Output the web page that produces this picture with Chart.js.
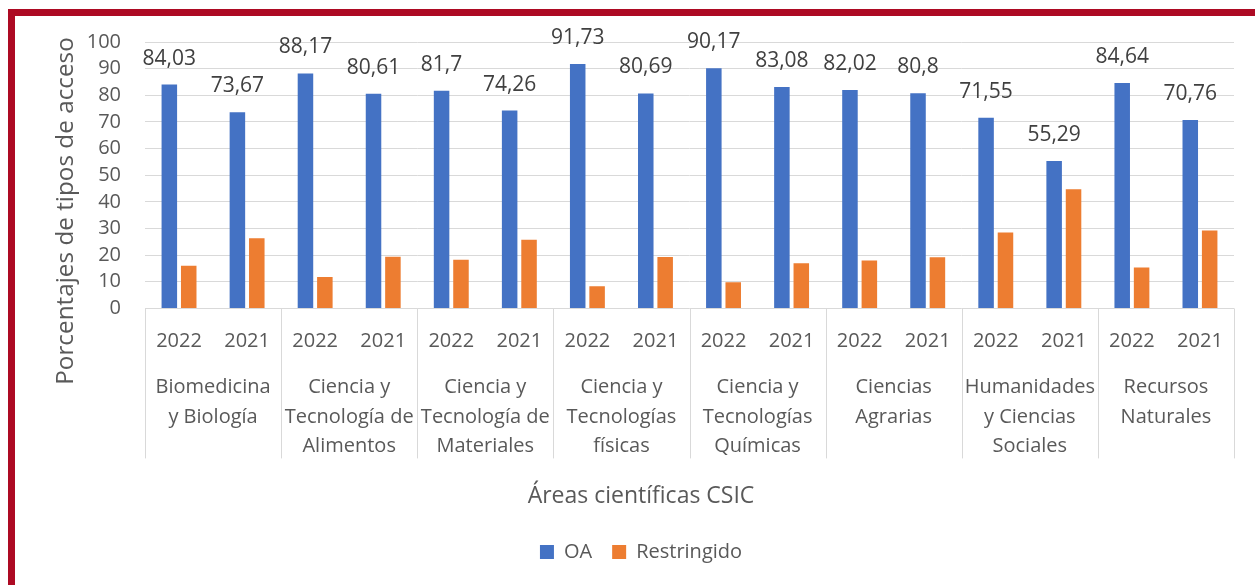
<!DOCTYPE html>
<html>
<head>
<meta charset="utf-8">
<script src="https://cdn.jsdelivr.net/npm/chart.js@4"></script>
<style>
body { margin: 0; background: #fff; }
#wrap { position: absolute; left: 0; top: 0; width: 1255px; height: 585px; }
#frame { position: absolute; left: 8px; top: 9px; width: 1247px; height: 576px; box-sizing: border-box;
         border-left: 7px solid #AD0A23; border-top: 7px solid #AD0A23; pointer-events: none; }
</style>
</head>
<body>
<div id="wrap"><canvas id="chart"></canvas></div>
<div id="frame"></div>
<script>
Chart.defaults.font.family = "'Open Sans', sans-serif";
Chart.defaults.color = '#595959';

// areas (multi-line) and years per area
var areas = [
    ['Biomedicina', 'y Biología'],
    ['Ciencia y', 'Tecnología de', 'Alimentos'],
    ['Ciencia y', 'Tecnología de', 'Materiales'],
    ['Ciencia y', 'Tecnologías', 'físicas'],
    ['Ciencia y', 'Tecnologías', 'Químicas'],
    ['Ciencias', 'Agrarias'],
    ['Humanidades', 'y Ciencias', 'Sociales'],
    ['Recursos', 'Naturales']
];
var years = ['2022', '2021'];

var oa = [84.03, 73.67, 88.17, 80.61, 81.7, 74.26, 91.73, 80.69, 90.17, 83.08, 82.02, 80.8, 71.55, 55.29, 84.64, 70.76];
var restringido = [15.97, 26.33, 11.83, 19.39, 18.3, 25.74, 8.27, 19.31, 9.83, 16.92, 17.98, 19.2, 28.45, 44.71, 15.36, 29.24];

var y_title = 'Porcentajes de tipos de acceso';
var x_title = 'Áreas científicas CSIC';

var labels = [];
for (var i = 0; i < areas.length; i++) {
    for (var j = 0; j < years.length; j++) {
        labels.push(years[j]);
    }
}

// value labels over the OA bars
var oa_labels = {
    id: 'oa_labels',
    afterDatasetsDraw: function(chart) {
        var ctx = chart.ctx;
        var meta = chart.getDatasetMeta(0);
        ctx.save();
        ctx.font = "21px 'Open Sans'";
        ctx.fillStyle = '#404040';
        ctx.textAlign = 'center';
        ctx.textBaseline = 'middle';
        meta.data.forEach(function(bar, i) {
            ctx.fillText(String(oa[i]).replace('.', ','), bar.x, bar.y - 26);
        });
        ctx.restore();
    }
};

// second level of the category axis + y title
var area_axis = {
    id: 'area_axis',
    afterDraw: function(chart) {
        var ctx = chart.ctx;
        var x = chart.scales.x;
        var area = chart.chartArea;
        var group = (area.right - area.left) / areas.length;
        ctx.save();
        ctx.strokeStyle = '#d9d9d9';
        ctx.lineWidth = 1;
        for (var g = 0; g <= areas.length; g++) {
            var px = Math.round(area.left + g * group) + 0.5;
            ctx.beginPath();
            ctx.moveTo(px, area.bottom);
            ctx.lineTo(px, area.bottom + 150);
            ctx.stroke();
        }
        ctx.font = "20px 'Open Sans'";
        ctx.fillStyle = '#595959';
        ctx.textAlign = 'center';
        ctx.textBaseline = 'middle';
        for (var g = 0; g < areas.length; g++) {
            var cx = (x.getPixelForValue(g * 2) + x.getPixelForValue(g * 2 + 1)) / 2;
            for (var k = 0; k < areas[g].length; k++) {
                ctx.fillText(areas[g][k], cx, area.bottom + 79 + k * 29.5);
            }
        }
        ctx.font = "24.3px 'Open Sans'";
        ctx.translate(66, 211);
        ctx.rotate(-Math.PI / 2);
        ctx.fillText(y_title, 0, 0);
        ctx.restore();
    }
};

new Chart(document.getElementById('chart'), {
    type: 'bar',
    data: {
        labels: labels,
        datasets: [{
            label: 'OA',
            data: oa,
            backgroundColor: '#4472C4'
        }, {
            label: 'Restringido',
            data: restringido,
            backgroundColor: '#ED7D31'
        }]
    },
    options: {
        responsive: true,
        maintainAspectRatio: false,
        animation: false,
        datasets: {
            bar: { categoryPercentage: 0.57, barPercentage: 0.8 }
        },
        layout: {
            padding: { top: 42, left: 48, right: 21, bottom: 13 }
        },
        scales: {
            x: {
                grid: { display: false },
                border: { display: false },
                ticks: { font: { size: 20 }, padding: 13, maxRotation: 0, autoSkip: false },
                afterFit: function(scale) { scale.height = 164; }
            },
            y: {
                min: 0,
                max: 100,
                grid: { color: '#d9d9d9', drawTicks: false },
                border: { display: false },
                ticks: { stepSize: 10, autoSkip: false, font: { size: 20 }, padding: 24 },
                afterFit: function(scale) { scale.width = 97; }
            }
        },
        plugins: {
            tooltip: { enabled: false },
            legend: {
                position: 'bottom',
                labels: { boxWidth: 14, boxHeight: 14, padding: 20, font: { size: 20 } }
            },
            title: {
                display: true,
                text: x_title,
                position: 'bottom',
                weight: 500,
                font: { size: 23, weight: 'normal' },
                padding: { top: 10, bottom: 12 }
            }
        }
    },
    plugins: [oa_labels, area_axis]
});
</script>
</body>
</html>
